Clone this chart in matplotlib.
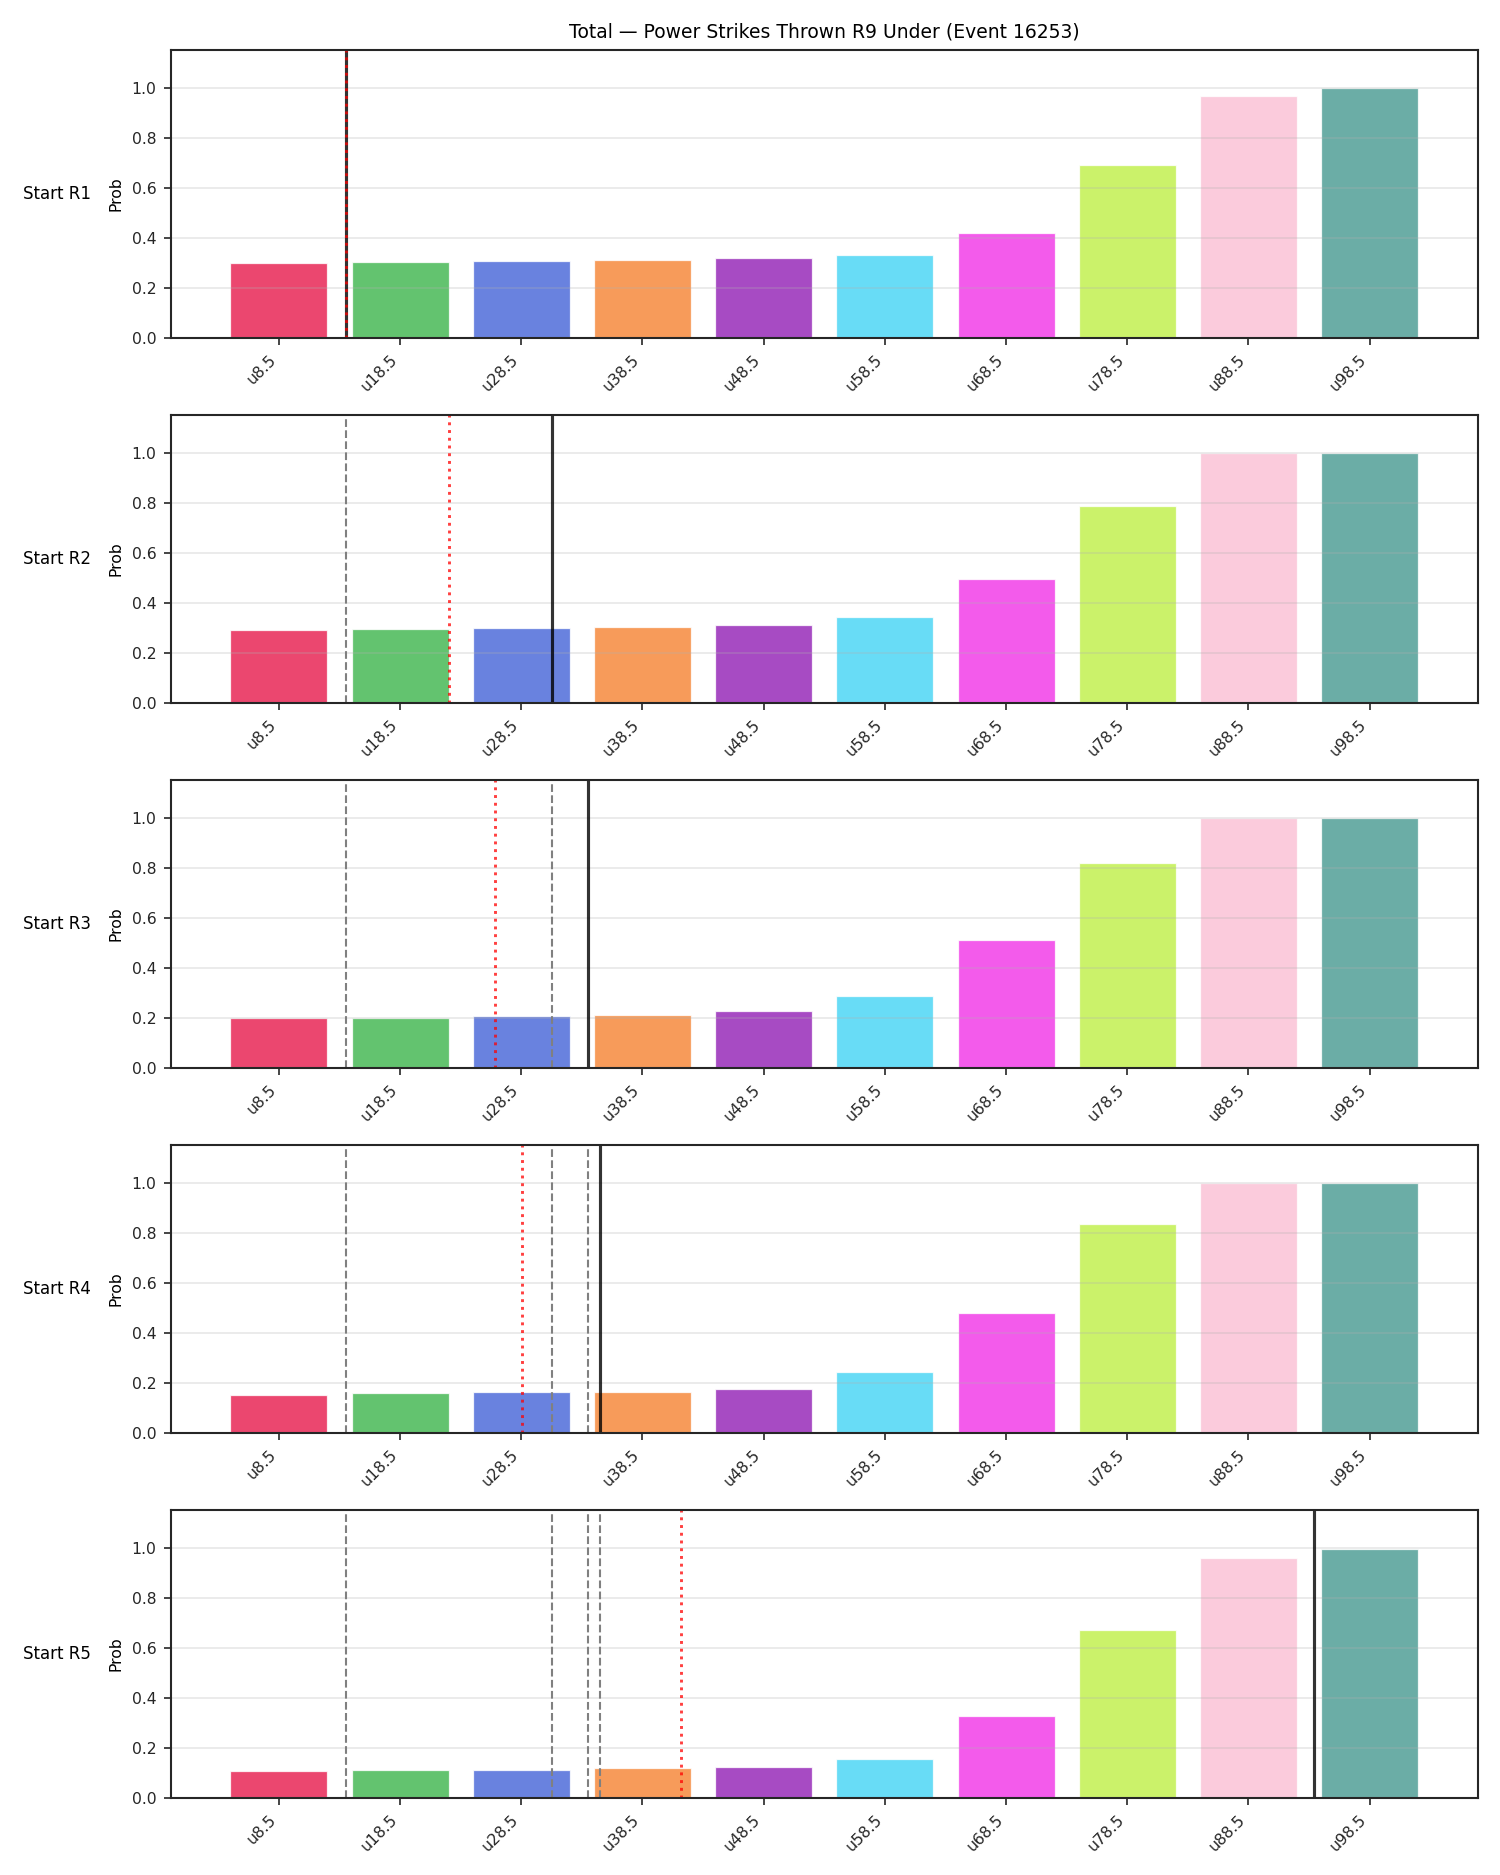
import numpy as np
import matplotlib
matplotlib.use("Agg")
import matplotlib.pyplot as plt

title = "Total \u2014 Power Strikes Thrown R9 Under (Event 16253)"
thresholds = [8.5, 18.5, 28.5, 38.5, 48.5, 58.5, 68.5, 78.5, 88.5, 98.5]
tick_labels = ["u8.5", "u18.5", "u28.5", "u38.5", "u48.5",
               "u58.5", "u68.5", "u78.5", "u88.5", "u98.5"]
row_labels = ["Start R1", "Start R2", "Start R3", "Start R4", "Start R5"]

probs_r1 = [0.300, 0.304, 0.308, 0.312, 0.320, 0.332, 0.420, 0.689, 0.965, 0.997]
probs_r2 = [0.291, 0.296, 0.300, 0.304, 0.312, 0.344, 0.496, 0.785, 0.999, 0.999]
probs_r3 = [0.197, 0.197, 0.205, 0.209, 0.226, 0.287, 0.512, 0.817, 0.997, 0.997]
probs_r4 = [0.152, 0.160, 0.164, 0.164, 0.174, 0.243, 0.480, 0.833, 0.999, 0.999]
probs_r5 = [0.108, 0.112, 0.112, 0.120, 0.124, 0.155, 0.328, 0.673, 0.961, 0.997]
all_probs = [probs_r1, probs_r2, probs_r3, probs_r4, probs_r5]

# current projection per start round (solid black), earlier ones dashed
current_line = [14.05, 31.0, 34.0, 34.97, 93.9]
# red dotted reference per round
ref_line = [14.05, 22.56, 26.37, 28.60, 41.7]

colors = ["#e6194b", "#3cb44b", "#4363d8", "#f58231", "#911eb4",
          "#42d4f4", "#f032e6", "#bfef45", "#fabed4", "#469990"]

fig, axes = plt.subplots(5, 1, figsize=(10, 12.5), dpi=150)
fig.subplots_adjust(left=0.114, right=0.985, top=0.9733, bottom=0.0412, hspace=0.27)

x = np.arange(len(thresholds))

def to_pos(v):
    return np.interp(v, thresholds, x, left=(v - thresholds[0]) / 10.0,
                     right=x[-1] + (v - thresholds[-1]) / 10.0)

for i, ax in enumerate(axes):
    ax.bar(x, all_probs[i], width=0.8, color=colors, alpha=0.8,
           edgecolor="white", linewidth=0.6)
    ax.set_ylim(0, 1.15)
    ax.set_xticks(x)
    ax.set_xticklabels(tick_labels, rotation=45, ha="right", fontsize=7.5)
    ax.tick_params(axis="y", labelsize=7.5)
    ax.tick_params(colors=".15")
    for s in ax.spines.values():
        s.set_color(".15")
        s.set_linewidth(1.0)
    ax.grid(axis="y", alpha=0.3)
    ax.set_ylabel("Prob", fontsize=7.5)
    for j in range(i):
        ax.axvline(to_pos(current_line[j]), color="gray", linestyle="--", linewidth=1.0)
    ax.axvline(to_pos(current_line[i]), color="black", alpha=0.8, linewidth=1.5)
    ax.axvline(to_pos(ref_line[i]), color="red", alpha=0.75, linestyle=":", linewidth=1.4)
    pos = ax.get_position()
    fig.text(0.0153, (pos.y0 + pos.y1) / 2, row_labels[i], ha="left", va="center",
             fontsize=8)

axes[0].set_title(title, fontsize=9)

fig.savefig("out.png", dpi=150)
